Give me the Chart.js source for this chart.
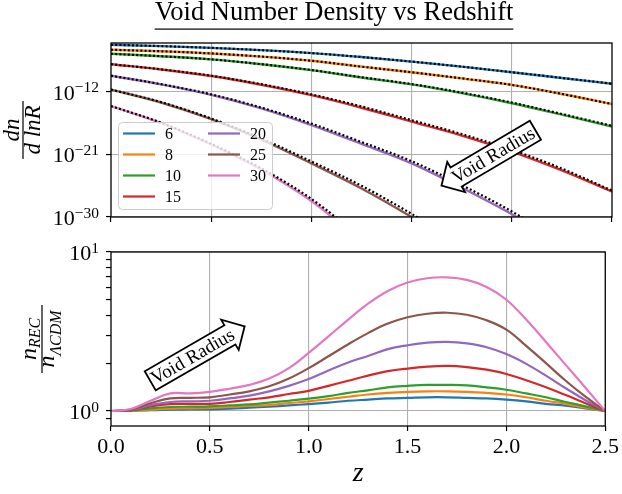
<!DOCTYPE html>
<html>
<head>
<meta charset="utf-8">
<script src="https://cdn.jsdelivr.net/npm/chart.js@4.4.0/dist/chart.umd.min.js"></script>
<style>
  body { margin: 0; background: #fff; overflow: hidden; }
  #wrap { position: relative; width: 622px; height: 494px; overflow: hidden; }
  canvas { position: absolute; left: 0; }
</style>
</head>
<body>
<div id="wrap">
  <canvas id="topChart" width="668" height="232" style="top:0"></canvas>
  <canvas id="bottomChart" width="622" height="262" style="top:232px"></canvas>
</div>
<script>
const FONT = "'Liberation Serif', 'DejaVu Serif', serif";
const radii = ['6', '8', '10', '15', '20', '25', '30'];
const colors = ['#1f77b4', '#ff7f0e', '#2ca02c', '#d62728', '#9467bd', '#8c564b', '#e377c2'];

// top panel, log10(dn/dlnR) vs z  (null = off the bottom of the plot)
const zTop = [0, 0.25, 0.5, 0.75, 1.0, 1.25, 1.5, 1.75, 2.0, 2.25, 2.5];
const dn6  = [-5.25, -5.45, -5.70, -6.03, -6.45, -7.02, -7.67, -8.40, -9.20, -10.02, -10.85];
const dn8  = [-5.97, -6.19, -6.50, -6.95, -7.55, -8.40, -9.20, -10.08, -11.02, -12.32, -13.77];
const dn10 = [-6.55, -6.90, -7.35, -8.05, -8.90, -9.95, -10.95, -12.20, -13.65, -15.30, -17.00];
const dn15 = [-8.05, -8.80, -9.75, -11.00, -12.50, -14.30, -16.30, -18.30, -20.60, -23.30, -26.35];
const dn20 = [-9.70, -10.95, -12.45, -14.40, -16.80, -19.50, -22.30, -25.80, -29.60, -34.0, null];
const dn25 = [-11.70, -13.55, -15.95, -18.90, -22.30, -25.90, -30.00, -34.5, null, null, null];
const dn30 = [-14.06, -16.50, -19.60, -23.20, -27.70, -33.5, null, null, null, null, null];

// dotted approximations drawn over them
const fit6  = [-5.25, -5.45, -5.70, -6.03, -6.45, -7.02, -7.67, -8.40, -9.20, -10.02, -10.85];
const fit8  = [-5.97, -6.19, -6.50, -6.95, -7.55, -8.40, -9.20, -10.08, -11.02, -12.32, -13.77];
const fit10 = [-6.55, -6.90, -7.35, -8.04, -8.88, -9.92, -10.90, -12.13, -13.56, -15.20, -16.90];
const fit15 = [-8.05, -8.78, -9.70, -10.92, -12.38, -14.12, -16.08, -18.08, -20.35, -23.05, -26.20];
const fit20 = [-9.70, -10.92, -12.38, -14.28, -16.58, -19.22, -21.98, -25.42, -29.20, -33.6, null];
const fit25 = [-11.70, -13.50, -15.85, -18.72, -22.02, -25.52, -29.55, -34.0, null, null, null];
const fit30 = [-14.06, -16.45, -19.50, -23.02, -27.40, -33.0, null, null, null, null, null];
const yTopTicks = [-30, -21, -12];

// bottom panel, n_REC / n_LCDM vs z
const zBot = [0, 0.1, 0.2, 0.3, 0.4, 0.5, 0.6, 0.7, 0.8, 0.9, 1.0, 1.1, 1.2,
              1.3, 1.4, 1.5, 1.6, 1.7, 1.8, 1.9, 2.0, 2.1, 2.2, 2.3, 2.4, 2.5];
const ratio6  = [1, 1.002, 1.012, 1.02, 1.022, 1.025, 1.035, 1.05, 1.065, 1.085, 1.105, 1.13, 1.16,
                 1.18, 1.20, 1.21, 1.22, 1.22, 1.21, 1.20, 1.18, 1.15, 1.11, 1.08, 1.04, 1.0];
const ratio8  = [1, 1.003, 1.02, 1.035, 1.04, 1.045, 1.06, 1.075, 1.09, 1.12, 1.15, 1.19, 1.23,
                 1.27, 1.30, 1.32, 1.33, 1.33, 1.32, 1.30, 1.27, 1.22, 1.16, 1.11, 1.05, 1.0];
const ratio10 = [1, 1.005, 1.04, 1.06, 1.065, 1.07, 1.085, 1.10, 1.13, 1.16, 1.195, 1.24, 1.30,
                 1.35, 1.41, 1.44, 1.46, 1.46, 1.45, 1.41, 1.36, 1.29, 1.22, 1.14, 1.07, 1.0];
const ratio15 = [1, 1.01, 1.07, 1.105, 1.11, 1.11, 1.14, 1.18, 1.22, 1.28, 1.34, 1.44, 1.55,
                 1.67, 1.78, 1.85, 1.90, 1.92, 1.89, 1.82, 1.71, 1.56, 1.41, 1.26, 1.12, 1.0];
const ratio20 = [1, 1.015, 1.09, 1.14, 1.15, 1.16, 1.20, 1.25, 1.33, 1.44, 1.59, 1.80, 2.02,
                 2.22, 2.45, 2.59, 2.69, 2.72, 2.66, 2.52, 2.28, 1.98, 1.67, 1.39, 1.17, 1.0];
const ratio25 = [1, 1.02, 1.12, 1.20, 1.21, 1.22, 1.27, 1.33, 1.43, 1.60, 1.86, 2.21, 2.63,
                 3.09, 3.55, 3.89, 4.09, 4.15, 4.03, 3.72, 3.25, 2.57, 2.00, 1.55, 1.23, 1.0];
const ratio30 = [1, 1.03, 1.16, 1.29, 1.29, 1.32, 1.38, 1.46, 1.60, 1.86, 2.32, 2.95, 3.76,
                 4.73, 5.69, 6.43, 6.84, 6.93, 6.68, 6.03, 5.01, 3.76, 2.72, 1.95, 1.40, 1.0];
const yBotTicks = [0.9, 1, 2, 3, 4, 5, 6, 7, 8, 9, 10];
const yBotMajor = [1, 10];

// arrow annotations, in data coordinates
const arrowTop = { z: 1.92, exp: -20.9, angle: -30.5, dir: 'left' };
const arrowBot = { z: 0.40, ratio: 2.16, angle: -30, dir: 'right' };

const dnSeries = [dn6, dn8, dn10, dn15, dn20, dn25, dn30];
const fitSeries = [fit6, fit8, fit10, fit15, fit20, fit25, fit30];
const ratioSeries = [ratio6, ratio8, ratio10, ratio15, ratio20, ratio25, ratio30];

function expPoints(zs, exps) {
  const out = [];
  zs.forEach((z, i) => { if (exps[i] !== null) out.push({ x: z, y: Math.pow(10, exps[i]) }); });
  return out;
}

const GRID = '#b0b0b0';

const frame = {
  id: 'frame',
  afterDraw(chart) {
    const { ctx, chartArea: a } = chart;
    ctx.save();
    ctx.strokeStyle = '#000';
    ctx.lineWidth = 1.3;
    ctx.strokeRect(a.left, a.top, a.right - a.left, a.bottom - a.top);
    ctx.restore();
  }
};

// y tick labels as 10 with a raised exponent (only at exact powers of ten)
const powLabels = {
  id: 'powLabels',
  afterDraw(chart) {
    const { ctx, chartArea: a } = chart;
    const sy = chart.scales.y;
    ctx.save();
    ctx.fillStyle = '#000';
    ctx.textBaseline = 'alphabetic';
    ctx.textAlign = 'left';
    sy.ticks.forEach(t => {
      const lg = Math.log10(t.value);
      const e = Math.round(lg);
      if (Math.abs(lg - e) > 1e-6) return;
      const y = sy.getPixelForValue(t.value);
      const ex = String(e).replace('-', '\u2212');
      ctx.font = '15.5px ' + FONT;
      const we = ctx.measureText(ex).width;
      ctx.font = '22px ' + FONT;
      const wb = ctx.measureText('10').width;
      const right = a.left - 12;
      ctx.fillText('10', right - we - wb, y + 8);
      ctx.font = '15.5px ' + FONT;
      ctx.fillText(ex, right - we, y + 0.5);
    });
    ctx.restore();
  }
};

function drawArrow(ctx, cx, cy, deg, dir) {
  const body = 92, h = 22, headLen = 17, headHalf = 17.5;
  ctx.save();
  ctx.translate(cx, cy);
  ctx.rotate(deg * Math.PI / 180);
  const s = dir === 'left' ? 1 : -1;
  ctx.beginPath();
  ctx.moveTo(-s * body / 2, -h / 2);
  ctx.lineTo(s * body / 2, -h / 2);
  ctx.lineTo(s * body / 2, h / 2);
  ctx.lineTo(-s * body / 2, h / 2);
  ctx.lineTo(-s * body / 2, headHalf);
  ctx.lineTo(-s * (body / 2 + headLen), 0);
  ctx.lineTo(-s * body / 2, -headHalf);
  ctx.closePath();
  ctx.fillStyle = '#fff';
  ctx.fill();
  ctx.lineWidth = 1.8;
  ctx.strokeStyle = '#000';
  ctx.stroke();
  ctx.fillStyle = '#000';
  ctx.font = '19px ' + FONT;
  ctx.textAlign = 'center';
  ctx.textBaseline = 'middle';
  ctx.fillText('Void Radius', -s * 3, 1);
  ctx.restore();
}

// top panel extras: underlined title, legend box, arrow, y label
const topExtras = {
  id: 'topExtras',
  afterDatasetsDraw(chart) {
    const { ctx, chartArea: a } = chart;
    const w = 154, h = 87, x = a.left + 7, y = a.bottom - 8 - h;
    ctx.save();
    ctx.beginPath();
    ctx.roundRect(x + 0.5, y + 0.5, w, h, 4);
    ctx.fillStyle = 'rgba(255,255,255,0.8)';
    ctx.fill();
    ctx.strokeStyle = '#cccccc';
    ctx.lineWidth = 1;
    ctx.stroke();
    ctx.font = '16px ' + FONT;
    ctx.textBaseline = 'middle';
    ctx.textAlign = 'left';
    radii.forEach((r, i) => {
      const col = i < 4 ? 0 : 1, row = i < 4 ? i : i - 4;
      const lx = x + 5 + col * 85, ly = y + 11.5 + row * 21;
      ctx.strokeStyle = colors[i];
      ctx.lineWidth = 2.2;
      ctx.beginPath();
      ctx.moveTo(lx, ly);
      ctx.lineTo(lx + 32, ly);
      ctx.stroke();
      ctx.fillStyle = '#000';
      ctx.fillText(r, lx + 42, ly + 1);
    });
    ctx.restore();
    const sx = chart.scales.x, sy = chart.scales.y;
    drawArrow(ctx, sx.getPixelForValue(arrowTop.z), sy.getPixelForValue(Math.pow(10, arrowTop.exp)), arrowTop.angle, arrowTop.dir);
  },
  afterDraw(chart) {
    const { ctx, chartArea: a } = chart;
    const t = chart.options.plugins.title;
    ctx.save();
    ctx.font = t.font.size + 'px ' + FONT;
    const tw = ctx.measureText(t.text).width;
    const cx = (a.right + 56) / 2;
    ctx.fillStyle = '#000';
    ctx.fillRect(cx - tw / 2, 28.5, tw, 1.2);
    // y label: dn / d lnR
    const cy = (a.top + a.bottom) / 2;
    ctx.translate(23, cy);
    ctx.rotate(-Math.PI / 2);
    ctx.fillRect(-29, -0.6, 58, 1.2);
    ctx.font = 'italic 23px ' + FONT;
    ctx.textAlign = 'center';
    ctx.textBaseline = 'alphabetic';
    ctx.fillText('dn', 0, -4);
    ctx.fillText('d lnR', 0, 17);
    ctx.restore();
  }
};

const bottomExtras = {
  id: 'bottomExtras',
  afterDatasetsDraw(chart) {
    const sx = chart.scales.x, sy = chart.scales.y;
    drawArrow(chart.ctx, sx.getPixelForValue(arrowBot.z), sy.getPixelForValue(arrowBot.ratio), arrowBot.angle, arrowBot.dir);
  },
  afterDraw(chart) {
    const { ctx, chartArea: a } = chart;
    const cy = (a.top + a.bottom) / 2;
    ctx.save();
    ctx.translate(42, cy);
    ctx.rotate(-Math.PI / 2);
    ctx.fillStyle = '#000';
    ctx.fillRect(-34, -0.6, 68, 1.2);
    ctx.textBaseline = 'alphabetic';
    ctx.textAlign = 'left';
    const frac = (sub, yMain, ySub) => {
      ctx.font = 'italic 24px ' + FONT;
      const wn = ctx.measureText('n').width;
      ctx.font = 'italic 16px ' + FONT;
      const ws = ctx.measureText(sub).width;
      const x0 = -(wn + ws) / 2;
      ctx.font = 'italic 24px ' + FONT;
      ctx.fillText('n', x0, yMain);
      ctx.font = 'italic 16px ' + FONT;
      ctx.fillText(sub, x0 + wn, ySub);
    };
    frac('REC', -6, -2);
    frac('ΛCDM', 12, 19);
    ctx.restore();
  }
};

const commonX = {
  type: 'linear', min: 0, max: 2.5,
  ticks: { stepSize: 0.5, color: '#000', font: { family: FONT, size: 22 }, padding: 3,
           callback: v => v.toFixed(1) },
  grid: {
    color: c => (c.tick && (c.tick.value === 0 || c.tick.value === 2.5)) ? 'rgba(0,0,0,0)' : GRID,
    lineWidth: 1.1, tickLength: 5, tickColor: '#000', tickWidth: 1.2
  },
  border: { display: false }
};

new Chart(document.getElementById('topChart'), {
  type: 'line',
  data: {
    datasets: [
      ...fitSeries.map((s, i) => ({
        label: radii[i] + ' fit', data: expPoints(zTop, s), borderColor: '#000',
        borderWidth: 2.2, borderDash: [2, 2.2], pointRadius: 0,
        cubicInterpolationMode: 'monotone', order: i
      })),
      ...dnSeries.map((s, i) => ({
        label: radii[i], data: expPoints(zTop, s), borderColor: colors[i],
        borderWidth: 2.4, pointRadius: 0, cubicInterpolationMode: 'monotone', order: 20 - i
      }))
    ]
  },
  options: {
    responsive: false,
    animation: false,
    layout: { padding: { left: 56, right: 56, top: 0, bottom: 0 } },
    plugins: {
      legend: { display: false },
      tooltip: { enabled: false },
      title: {
        display: true, text: 'Void Number Density vs Redshift', color: '#000',
        font: { family: FONT, size: 26.5, weight: 'normal', lineHeight: 1 },
        padding: { top: 0, bottom: 16.5 }
      }
    },
    scales: {
      x: Object.assign({}, commonX, {
        ticks: Object.assign({}, commonX.ticks, { display: false }),
        afterFit: s => { s.height = 15; }
      }),
      y: {
        type: 'logarithmic', min: 1e-30, max: 1e-5,
        afterBuildTicks: s => { s.ticks = yTopTicks.map(e => ({ value: Math.pow(10, e) })); },
        ticks: { display: false },
        grid: { color: GRID, lineWidth: 1.1, tickLength: 5, tickColor: '#000', tickWidth: 1.2 },
        border: { display: false },
        afterFit: s => { s.width = 55; }
      }
    }
  },
  plugins: [topExtras, powLabels, frame]
});

new Chart(document.getElementById('bottomChart'), {
  type: 'line',
  data: {
    datasets: ratioSeries.map((s, i) => ({
      label: radii[i], data: zBot.map((z, k) => ({ x: z, y: s[k] })), borderColor: colors[i],
      borderWidth: 2.2, pointRadius: 0, tension: 0.4, order: 20 - i
    }))
  },
  options: {
    responsive: false,
    animation: false,
    layout: { padding: { left: 0, right: 10, top: 20, bottom: 0 } },
    plugins: { legend: { display: false }, tooltip: { enabled: false } },
    scales: {
      x: Object.assign({}, commonX, {
        title: { display: true, text: 'z', color: '#000',
                 font: { family: FONT, size: 28, style: 'italic' }, padding: { top: 0, bottom: 4 } },
        afterFit: s => { s.height = 68; }
      }),
      y: {
        type: 'logarithmic', min: 0.805, max: 10,
        afterBuildTicks: s => { s.ticks = yBotTicks.map(v => ({ value: v, major: yBotMajor.includes(v) })); },
        ticks: { display: false },
        grid: {
          color: c => (c.tick && c.tick.major) ? GRID : 'rgba(0,0,0,0)',
          lineWidth: 1.1, tickLength: 5, tickColor: '#000', tickWidth: 1.2
        },
        border: { display: false },
        afterFit: s => { s.width = 111; }
      }
    }
  },
  plugins: [bottomExtras, powLabels, frame]
});
</script>
</body>
</html>
